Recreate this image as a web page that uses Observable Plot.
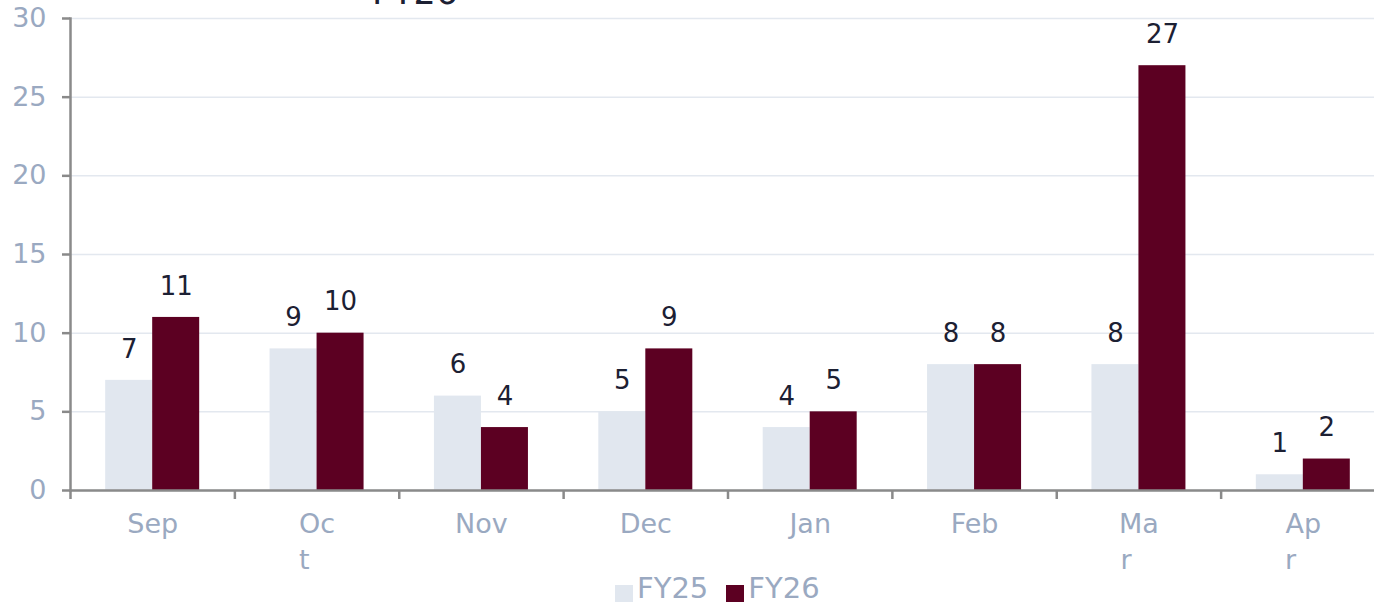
<!DOCTYPE html>
<html>
<head>
<meta charset="utf-8">
<script src="https://cdn.jsdelivr.net/npm/d3@7"></script>
<script src="https://cdn.jsdelivr.net/npm/@observablehq/plot@0.6"></script>
<style>
  html, body { margin: 0; padding: 0; background: #fff; }
  #wrap { position: relative; width: 1374px; height: 602px; overflow: hidden; font-family: "DejaVu Sans", sans-serif; }
  #title { position: absolute; left: 372px; top: -25px; font-size: 35px; color: #1c2033; line-height: 1; white-space: nowrap; }
  #chart { position: absolute; left: 0; top: 0; }
  #chart svg { overflow: hidden; }
  #legend { position: absolute; left: 615px; top: 574px; display: flex; align-items: flex-end; font-size: 29px; color: #9aa9c1; line-height: 1; }
  .item { display: flex; align-items: flex-end; margin-right: 18px; }
  .sw { width: 18px; height: 18px; margin-right: 4px; margin-bottom: 0px; }
</style>
</head>
<body>
<div id="wrap">
  <div id="chart"></div>
  <div id="title">FY26</div>
  <div id="legend"></div>
</div>
<script>
const months = ["Sep", "Oct", "Nov", "Dec", "Jan", "Feb", "Mar", "Apr"];
const monthLabels = ["Sep", "Oc\nt\u00a0\u00a0\u00a0", "Nov", "Dec", "Jan", "Feb", "Ma\nr\u00a0\u00a0\u00a0", "Ap\nr\u00a0\u00a0\u00a0"];
const fy25 = [7, 9, 6, 5, 4, 8, 8, 1];
const fy26 = [11, 10, 4, 9, 5, 8, 27, 2];
const series = ["FY25", "FY26"];
const colors = ["#e1e7ef", "#5c0022"];
const yTicks = [0, 5, 10, 15, 20, 25, 30];

const rows25 = months.map((m, i) => ({month: m, series: "FY25", value: fy25[i]}));
const rows26 = months.map((m, i) => ({month: m, series: "FY26", value: fy26[i]}));

const xRange = [70, 1385];
const bw = (xRange[1] - xRange[0]) / months.length;
const barW = 47;
const outer = (bw - 2 * barW) / 2;
const labelMap = new Map(months.map((m, i) => [m, monthLabels[i]]));

const axisColor = "#8a8a8a";
const tickText = "#9aa9c1";
const valueText = "#1c2033";

const chart = Plot.plot({
  width: 1374,
  height: 580,
  marginLeft: 70,
  marginRight: 0,
  marginTop: 18,
  marginBottom: 90,
  style: {fontFamily: "DejaVu Sans, sans-serif", background: "transparent", overflow: "hidden"},
  x: {domain: months, range: xRange, padding: 0, round: false, axis: null},
  y: {domain: [0, 30], axis: null},
  marks: [
    Plot.gridY(yTicks, {stroke: "#e3e8ef", strokeOpacity: 1, strokeWidth: 1.5}),
    Plot.barY(rows25, {x: "month", y: "value", fill: colors[0], insetLeft: outer, insetRight: bw - outer - barW}),
    Plot.barY(rows26, {x: "month", y: "value", fill: colors[1], insetLeft: outer + barW, insetRight: outer}),
    Plot.text(rows25, {x: "month", y: "value", text: d => String(d.value), dx: outer + barW / 2 - bw / 2, dy: -31, fill: valueText, fontSize: 26}),
    Plot.text(rows26, {x: "month", y: "value", text: d => String(d.value), dx: outer + barW * 1.5 - bw / 2, dy: -31, fill: valueText, fontSize: 26}),
    Plot.axisY({ticks: yTicks, label: null, tickSize: 8, tickPadding: 16, stroke: axisColor, strokeWidth: 2.5, fill: tickText, fontSize: 27, strokeOpacity: 1}),
    Plot.axisX({label: null, tickSize: 0, tickPadding: 18, tickFormat: d => labelMap.get(d), fill: tickText, fontSize: 27, lineHeight: 1.3}),
    Plot.axisX({label: null, tickSize: 9, dx: -bw / 2, tickFormat: () => "", stroke: axisColor, strokeWidth: 2.5, strokeOpacity: 1}),
    Plot.frame({anchor: "left", stroke: axisColor, strokeWidth: 2.5}),
    Plot.frame({anchor: "bottom", stroke: axisColor, strokeWidth: 2.5})
  ]
});
document.getElementById("chart").appendChild(chart);

const legend = document.getElementById("legend");
series.forEach((s, i) => {
  const item = document.createElement("div");
  item.className = "item";
  const sw = document.createElement("div");
  sw.className = "sw";
  sw.style.background = colors[i];
  const t = document.createElement("span");
  t.textContent = s;
  item.appendChild(sw);
  item.appendChild(t);
  legend.appendChild(item);
});
</script>
</body>
</html>
